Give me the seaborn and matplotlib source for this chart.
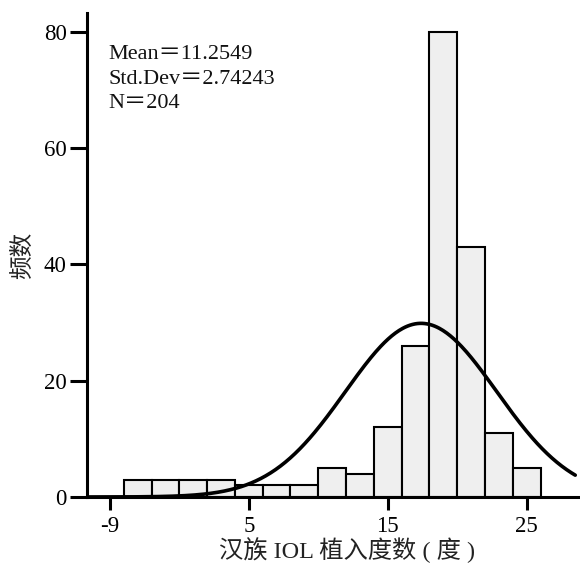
import numpy as np
import pandas as pd
import matplotlib
matplotlib.use("Agg")
import matplotlib.pyplot as plt
import seaborn as sns

# histogram bins (width 2) and counts
bin_edges = [-4, -2, 0, 2, 4, 6, 8, 10, 12, 14, 16, 18, 20, 22, 24, 26]
counts = [3, 3, 3, 3, 2, 2, 2, 5, 4, 12, 26, 80, 43, 11, 5]

# fitted normal curve as drawn
curve_mu = 17.4
curve_sd = 5.45
n_total = 204

tick_pos = [-5, 5, 15, 25]
tick_labels = ["-9", "5", "15", "25"]
ytick_pos = [0, 20, 40, 60, 80]
stats_text = "Mean＝11.2549\nStd.Dev＝2.74243\nN＝204"

sns.set_style("ticks")
plt.rcParams['font.family'] = ['Liberation Serif', 'Noto Sans CJK SC', 'DejaVu Sans']

centers = [(a + b) / 2 for a, b in zip(bin_edges[:-1], bin_edges[1:])]
df = pd.DataFrame({"x": centers, "n": counts})

fig = plt.figure(figsize=(5.8, 5.65), dpi=100)
ax = fig.add_axes([0.15, 0.1204, 0.8466, 0.8561])

sns.histplot(data=df, x="x", weights="n", bins=bin_edges, ax=ax,
             color="#efefef", alpha=1, edgecolor="black", linewidth=1.5)

xs = np.linspace(-6.65, 28.5, 400)
binw = bin_edges[1] - bin_edges[0]
ys = n_total * binw / (curve_sd * np.sqrt(2 * np.pi)) * np.exp(-(xs - curve_mu) ** 2 / (2 * curve_sd ** 2))
sns.lineplot(x=xs, y=ys, ax=ax, color="black", linewidth=2.6)

ax.set_xlim(-6.65, 28.7)
ax.set_ylim(0, 83.2)
ax.set_xticks(tick_pos)
ax.set_xticklabels(tick_labels)
ax.set_yticks(ytick_pos)
ax.tick_params(axis="both", direction="out", width=2.2, labelsize=16.5, colors="black")
ax.tick_params(axis="y", length=12, pad=2.5)
ax.tick_params(axis="x", length=9, pad=5)
for s in ["left", "bottom"]:
    ax.spines[s].set_linewidth(2.2)
    ax.spines[s].set_color("black")
sns.despine(ax=ax)

ax.set_xlabel("汉族 IOL 植入度数 ( 度 )", fontsize=17.5, color="#222222")
ax.xaxis.set_label_coords(0.53, -0.083)
ax.set_ylabel("频数", fontsize=17, labelpad=7, color="#222222")

ax.text(0.043, 0.934, stats_text, transform=ax.transAxes, fontsize=16,
        va="top", ha="left", linespacing=1.4, color="#111111")

fig.savefig("out.png", dpi=100)
